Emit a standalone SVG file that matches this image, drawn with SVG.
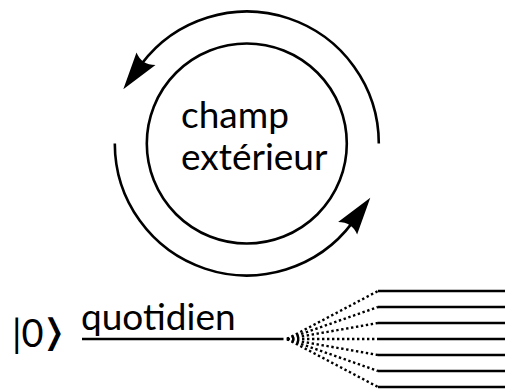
<svg xmlns="http://www.w3.org/2000/svg" xmlns:xlink="http://www.w3.org/1999/xlink" width="505" height="389" viewBox="0 0 505 389">
  <style>
    .lbl { font-family: Lato, "Open Sans", "DejaVu Sans", sans-serif; font-size: 37px; fill: #000; }
    .br { font-family: "Noto Sans CJK JP", "DejaVu Sans", sans-serif; font-weight: 300; font-size: 38px; fill: #000; }
    .stroke { fill: none; stroke: #000; stroke-width: 2.6; }
    .dot { fill: none; stroke: #000; stroke-width: 2.4; stroke-dasharray: 2.4 2.6; }
    .solid { fill: none; stroke: #000; stroke-width: 2.4; }
  </style>
  <defs>
    <path id="ah" d="M123.3,89.3 L136.5,52.5 Q141.5,65 155.5,65 Z" fill="#000"/>
    <g id="cyc">
      <path class="stroke" d="M378.8,143.5 A132,132 0 0 0 141.4,64.1"/>
      <use xlink:href="#ah"/>
    </g>
  </defs>
  <rect width="505" height="389" fill="#fff"/>

  <g id="champ-exterieur">
    <circle class="stroke" cx="246.8" cy="143.5" r="100"/>
    <text class="lbl" x="181" y="127.5">champ</text>
    <text class="lbl" x="181" y="169.5">extérieur</text>
  </g>

  <g id="ket">
    <text class="lbl" x="12" y="347" style="font-size:38px">|0</text>
    <text class="br" x="28" y="346" transform="scale(1.55,1)">⟩</text>
  </g>

  <g id="quotidien">
    <text class="lbl" x="81" y="330">quotidien</text>
  </g>

  <g id="connectors">
    <use xlink:href="#cyc"/>
    <use xlink:href="#cyc" transform="rotate(180 246.8 143.5)"/>
    <line class="solid" x1="82" y1="339" x2="283.5" y2="339"/>
    <g id="fan">
      <line class="dot" x1="287" y1="339" x2="378" y2="291"/>
      <line class="dot" x1="287" y1="339" x2="378" y2="307"/>
      <line class="dot" x1="287" y1="339" x2="378" y2="323"/>
      <line class="dot" x1="287" y1="339" x2="378" y2="339"/>
      <line class="dot" x1="287" y1="339" x2="378" y2="355"/>
      <line class="dot" x1="287" y1="339" x2="378" y2="371"/>
      <line class="dot" x1="287" y1="339" x2="378" y2="387"/>
      <line class="solid" x1="378" y1="291" x2="505" y2="291"/>
      <line class="solid" x1="378" y1="307" x2="505" y2="307"/>
      <line class="solid" x1="378" y1="323" x2="505" y2="323"/>
      <line class="solid" x1="378" y1="339" x2="505" y2="339"/>
      <line class="solid" x1="378" y1="355" x2="505" y2="355"/>
      <line class="solid" x1="378" y1="371" x2="505" y2="371"/>
      <line class="solid" x1="378" y1="387" x2="505" y2="387"/>
    </g>
  </g>
</svg>
